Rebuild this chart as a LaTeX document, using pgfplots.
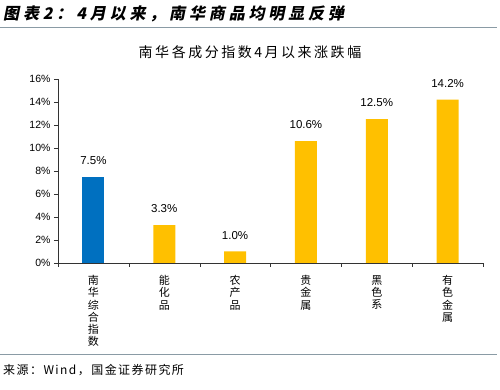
\documentclass[border=0pt]{standalone}
\usepackage{pgfplots}
\pgfplotsset{compat=1.18}
\usepackage{fontspec}
\setmainfont{Liberation Sans}
\newfontfamily\cjk{Noto Sans CJK SC}
\newfontfamily\cjkt[FakeSlant=0.2]{Noto Sans CJK SC}
\definecolor{barblue}{HTML}{0070C0}
\definecolor{baryellow}{HTML}{FFC000}
\definecolor{linegray}{HTML}{8A9BA5}
\begin{document}
\begin{tikzpicture}[x=1pt,y=1pt]
\path[use as bounding box] (0,0) rectangle (500,390);
\node[anchor=west,inner sep=0,font=\cjkt\bfseries\fontsize{16}{16}\selectfont\addfontfeature{LetterSpace=24}] at (3,376) {图表2：4月以来，南华商品均明显反弹};
\draw[linegray,line width=1pt] (0,362) -- (497,362);
\node[inner sep=0,font=\cjk\fontsize{14}{14}\selectfont\addfontfeature{LetterSpace=18}] at (250,338) {南华各成分指数4月以来涨跌幅};
\begin{axis}[
  at={(58pt,127pt)}, anchor=south west,
  scale only axis, width=425pt, height=184pt,
  xmin=-0.5, xmax=5.5, ymin=0, ymax=16,
  axis x line*=bottom, axis y line*=left,
  axis line style={black!80,-},
  ytick={0,2,...,16},
  yticklabel={\pgfmathprintnumber{\tick}\%},
  /pgf/number format/assume math mode=true,
  yticklabel style={font=\fontsize{10.5}{10.5}\selectfont},
  tick align=outside, major tick length=4pt, minor tick length=4pt,
  ytick style={black!80},
  xtick={0,...,5},
  major x tick style={draw=none},
  minor xtick={-0.5,0.5,...,5.5},
  minor x tick style={draw=black!80},
  xticklabels={{南\\华\\综\\合\\指\\数},{能\\化\\品},{农\\产\\品},{贵\\金\\属},{黑\\色\\系},{有\\色\\金\\属}},
  xticklabel style={align=center,anchor=north,inner sep=0pt,yshift=-8pt,font=\cjk\fontsize{11}{12.3}\selectfont},
  clip=false,
  nodes near coords={\pgfmathprintnumber[fixed,fixed zerofill,precision=1]{\pgfplotspointmeta}\%},
  every node near coord/.append style={font=\fontsize{11.5}{11.5}\selectfont,anchor=south,inner sep=0pt,yshift=12pt},
]
\addplot[ybar, bar width=22pt, bar shift=0pt, fill=barblue, draw=none] coordinates {(0,7.5)};
\addplot[ybar, bar width=22pt, bar shift=0pt, fill=baryellow, draw=none] coordinates {(1,3.3) (2,1.0) (3,10.6) (4,12.5) (5,14.2)};
\end{axis}
\draw[linegray,line width=1pt] (0,35) -- (497,35);
\node[anchor=west,inner sep=0,font=\cjk\fontsize{12}{12}\selectfont\addfontfeature{LetterSpace=12}] at (3,20) {来源：Wind，国金证券研究所};
\end{tikzpicture}
\end{document}
